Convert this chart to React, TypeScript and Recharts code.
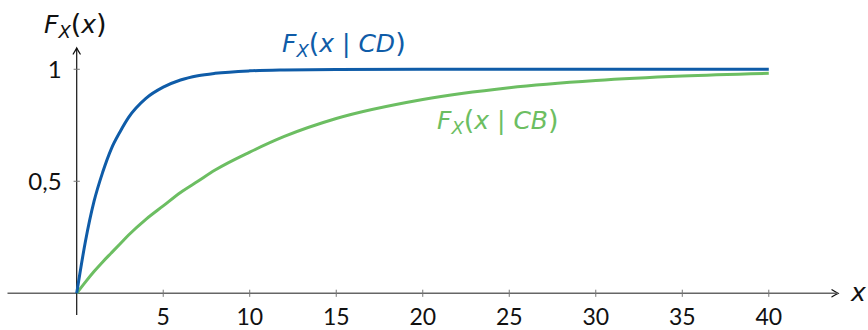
import { LineChart, Line, XAxis, YAxis, ReferenceLine } from "recharts";

const xValues = [0, 0.5, 1, 1.5, 2, 2.5, 3, 4, 5, 6, 7, 8, 10, 12, 15, 20, 25, 30, 35, 40];
const cdValues = [0, 0.23, 0.41, 0.54, 0.645, 0.72, 0.785, 0.87, 0.92, 0.952, 0.971, 0.982, 0.993, 0.997, 0.999, 1, 1, 1, 1, 1];
const cbValues = [0, 0.05, 0.097, 0.14, 0.18, 0.22, 0.26, 0.33, 0.39, 0.45, 0.5, 0.55, 0.63, 0.7, 0.78, 0.865, 0.918, 0.95, 0.97, 0.982];

const xTicks = [5, 10, 15, 20, 25, 30, 35, 40];
const yTicks = [0.5, 1];
const yTickLabels = ["0,5", "1"];

const BLUE = "#0f5ca8";
const GREEN = "#6cbe62";
const MATH = "'DejaVu Sans', sans-serif";

const data = xValues.map((x, i) => ({ x, cd: cdValues[i], cb: cbValues[i] }));

function Arrow({ x, y, rot }: { x: number; y: number; rot: number }) {
  return (
    <path
      d="M -6 -3.5 Q -2 -1 0 0 Q -2 1 -6 3.5"
      transform={`translate(${x},${y}) rotate(${rot})`}
      fill="none"
      stroke="#111"
      strokeWidth={1.3}
      strokeLinecap="round"
    />
  );
}

function MathLabel({ x, y, color, cond }: { x: number; y: number; color: string; cond?: string }) {
  return (
    <text x={x} y={y} fill={color} fontFamily={MATH} fontSize={25}>
      <tspan fontStyle="italic">F</tspan>
      <tspan fontStyle="italic" fontSize={18} dy={5}>X</tspan>
      <tspan dy={-5} fontSize={27}>(</tspan>
      <tspan fontStyle="italic">x</tspan>
      {cond ? (
        <>
          <tspan> | </tspan>
          <tspan fontStyle="italic">{cond}</tspan>
        </>
      ) : null}
      <tspan fontSize={27}>)</tspan>
    </text>
  );
}

export default function App() {
  return (
    <div style={{ position: "absolute", left: 0, top: 0, width: 868, height: 330, background: "#fff", fontFamily: "Lato, sans-serif" }}>
      <LineChart width={868} height={330} data={data} margin={{ top: 48, right: 30, bottom: 15, left: 7.5 }}>
        <XAxis dataKey="x" type="number" domain={[-4, 44]} allowDataOverflow hide />
        <YAxis type="number" domain={[-0.097, 1.095]} allowDataOverflow hide />
        <ReferenceLine segment={[{ x: -4, y: 0 }, { x: 44, y: 0 }]} stroke="#666" strokeWidth={1.4} />
        <ReferenceLine segment={[{ x: 0, y: -0.097 }, { x: 0, y: 1.095 }]} stroke="#111" strokeWidth={1.2} />
        {xTicks.map((t) => (
          <ReferenceLine
            key={"xt" + t}
            segment={[{ x: t, y: -0.016 }, { x: t, y: 0.016 }]}
            stroke="#777"
            strokeWidth={1}
            label={{ value: String(t), position: "bottom", offset: 12, fill: "#111", fontSize: 23, fontFamily: "Lato, sans-serif" }}
          />
        ))}
        {yTicks.map((t, i) => (
          <ReferenceLine
            key={"yt" + t}
            segment={[{ x: -0.18, y: t }, { x: 0.18, y: t }]}
            stroke="#777"
            strokeWidth={1}
            label={{ value: yTickLabels[i], position: "left", offset: 12, fill: "#111", fontSize: 24, fontFamily: "Lato, sans-serif" }}
          />
        ))}
        <Line type="monotone" dataKey="cb" stroke={GREEN} strokeWidth={3} dot={false} isAnimationActive={false} />
        <Line type="monotone" dataKey="cd" stroke={BLUE} strokeWidth={3} dot={false} isAnimationActive={false} />
        <Arrow x={838} y={293.3} rot={0} />
        <Arrow x={76.7} y={48} rot={-90} />
        <MathLabel x={44} y={33} color="#111" />
        <MathLabel x={282} y={52} color={BLUE} cond="CD" />
        <MathLabel x={437} y={129} color={GREEN} cond="CB" />
        <text x={851} y={301} fill="#111" fontFamily={MATH} fontSize={25} fontStyle="italic">
          x
        </text>
      </LineChart>
    </div>
  );
}
